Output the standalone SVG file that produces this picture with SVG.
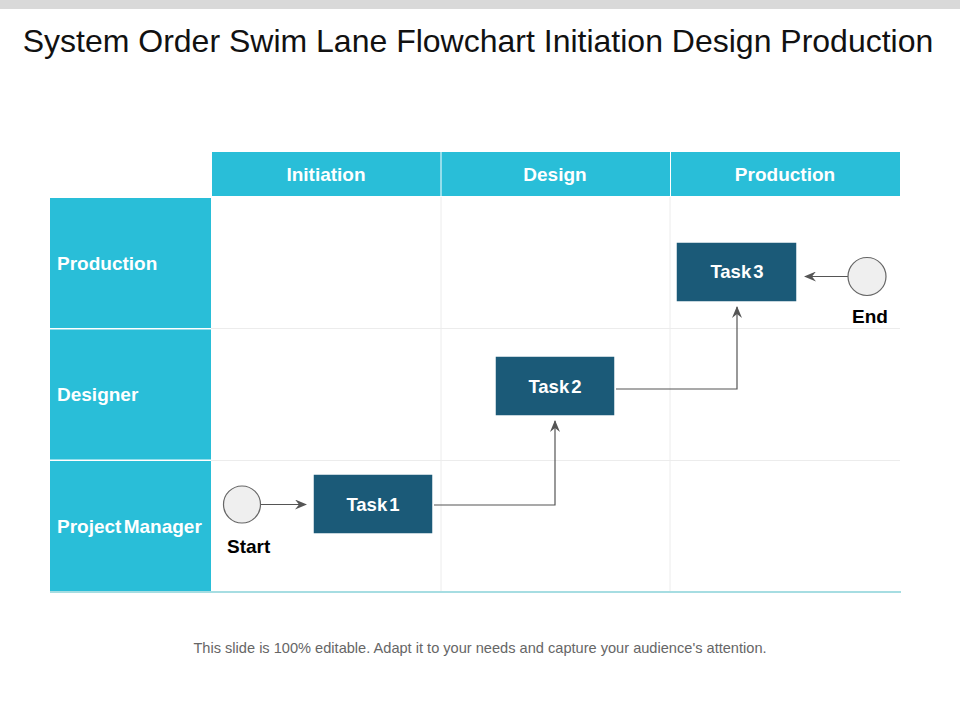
<svg xmlns="http://www.w3.org/2000/svg" width="960" height="720" viewBox="0 0 960 720">
<style>
.hdr{fill:#29BED8}
.hl{font-family:"Liberation Sans",Arial,sans-serif;font-weight:bold;font-size:19px;fill:#fff}
.grid{stroke:#ececec;stroke-width:1}
.task rect{fill:#1B5A78;stroke:#fff;stroke-width:1.5}
.task text{font-family:"Liberation Sans",Arial,sans-serif;font-weight:bold;font-size:18.5px;fill:#fff;text-anchor:middle;word-spacing:-3px}
.ev circle{fill:#efefef;stroke:#666;stroke-width:1.2}
.ev text{font-family:"Liberation Sans",Arial,sans-serif;font-weight:bold;font-size:19px;fill:#000}
.conn path{fill:none;stroke:#555;stroke-width:1.2;marker-end:url(#arr)}
</style>
<defs>
<marker id="arr" viewBox="0 0 12 10" refX="11" refY="5" markerWidth="12" markerHeight="10" markerUnits="userSpaceOnUse" orient="auto">
<path d="M0,0 L12,5 L0,10 L4,5 Z" fill="#555"/>
</marker>
</defs>
<rect x="0" y="0" width="960" height="720" fill="#fff"/>
<rect x="0" y="0" width="960" height="9" fill="#d9d9d9"/>
<text x="478" y="52" text-anchor="middle" font-family="Liberation Sans,Arial,sans-serif" font-size="32" fill="#111">System Order Swim Lane Flowchart Initiation Design Production</text>

<g id="grid">
<line class="grid" x1="441" y1="197" x2="441" y2="591"/>
<line class="grid" x1="670" y1="197" x2="670" y2="591"/>
<line class="grid" x1="211" y1="328.5" x2="900" y2="328.5"/>
<line class="grid" x1="211" y1="460.5" x2="900" y2="460.5"/>
<line x1="50" y1="592" x2="901" y2="592" stroke="#a6dde2" stroke-width="2"/>
</g>

<g id="header">
<rect class="hdr" x="212" y="152" width="688" height="44"/>
<line x1="441" y1="152" x2="441" y2="196" stroke="#fff" stroke-width="1"/>
<line x1="670.5" y1="152" x2="670.5" y2="196" stroke="#fff" stroke-width="1"/>
<text class="hl" x="326" y="181" text-anchor="middle">Initiation</text>
<text class="hl" x="555" y="181" text-anchor="middle">Design</text>
<text class="hl" x="785" y="181" text-anchor="middle">Production</text>
</g>

<g id="lanes">
<rect class="hdr" x="50" y="198" width="161" height="130"/>
<rect class="hdr" x="50" y="329.5" width="161" height="130"/>
<rect class="hdr" x="50" y="461" width="161" height="130"/>
<text class="hl" x="57" y="270">Production</text>
<text class="hl" x="57" y="401">Designer</text>
<text class="hl" x="57" y="533" word-spacing="-3">Project Manager</text>
</g>

<g id="conns" class="conn">
<path d="M261,504.5 H306"/>
<path d="M434,505 H555 V421"/>
<path d="M616,389 H737 V307"/>
<path d="M848,276.5 H805"/>
</g>

<g id="start" class="ev">
<circle cx="242" cy="504.5" r="18.5"/>
<text x="227" y="553">Start</text>
</g>
<g id="end" class="ev">
<circle cx="867" cy="276.5" r="19"/>
<text x="852" y="323">End</text>
</g>

<g id="task1" class="task">
<rect x="313" y="474" width="120" height="60"/>
<text x="373" y="511">Task 1</text>
</g>
<g id="task2" class="task">
<rect x="495" y="356" width="120" height="60"/>
<text x="555" y="393">Task 2</text>
</g>
<g id="task3" class="task">
<rect x="676" y="242" width="121" height="60"/>
<text x="737" y="278">Task 3</text>
</g>

<text x="480" y="653" text-anchor="middle" font-family="Liberation Sans,Arial,sans-serif" font-size="14.6" fill="#666">This slide is 100% editable. Adapt it to your needs and capture your audience's attention.</text>
</svg>
